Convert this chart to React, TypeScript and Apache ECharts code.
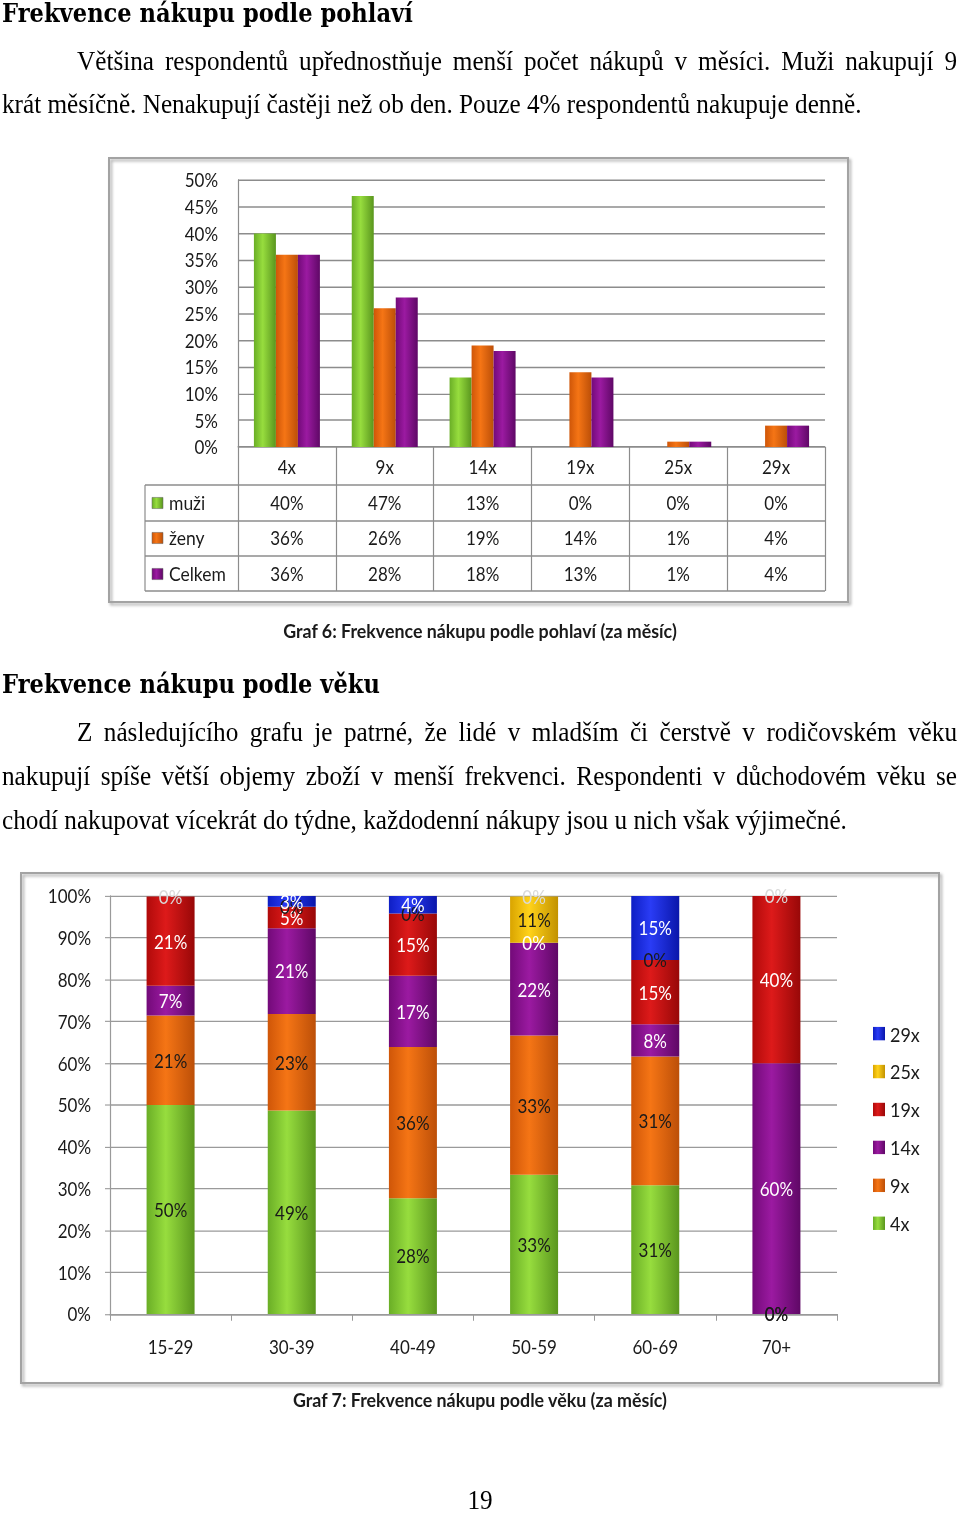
import React, { useEffect, useRef } from 'react';
import * as echarts from 'echarts';

// ---------- page geometry (reference is vertically stretched) ----------
const PAGE_W = 960;
const PAGE_H = 1515;
const SY = 1515 / 1358;
const H = 1358;
const yy = (v: number) => v / SY;

// ---------- Graf 6 data ----------
const genderCats = ['4x', '9x', '14x', '19x', '25x', '29x'];
const genderNames = ['muži', 'ženy', 'Celkem'];
const muzi = [40, 47, 13, 0, 0, 0];
const zeny = [36, 26, 19, 14, 1, 4];
const celkem = [36, 28, 18, 13, 1, 4];

// ---------- Graf 7 data ----------
const ageCats = ['15-29', '30-39', '40-49', '50-59', '60-69', '70+'];
const ageKeys = ['4x', '9x', '14x', '19x', '25x', '29x'];
const freq4x = [50, 48.7, 27.7, 33.3, 30.8, 0];
const freq9x = [21.4, 23.1, 36.2, 33.3, 30.8, 0];
const freq14x = [7.1, 20.5, 17.0, 22.2, 7.7, 60];
const freq19x = [21.4, 5.1, 14.9, 0, 15.4, 40];
const freq25x = [0, 0, 0, 11.1, 0, 0];
const freq29x = [0, 2.6, 4.3, 0, 15.4, 0];
const legendOrder = ['29x', '25x', '19x', '14x', '9x', '4x'];

// ---------- texts ----------
const heading1 = 'Frekvence nákupu podle pohlaví';
const p1l1 = 'Většina respondentů upřednostňuje menší počet nákupů v měsíci. Muži nakupují 9';
const p1l2 = 'krát měsíčně. Nenakupují častěji než ob den. Pouze 4% respondentů nakupuje denně.';
const caption6 = 'Graf 6: Frekvence nákupu podle pohlaví (za měsíc)';
const heading2 = 'Frekvence nákupu podle věku';
const p2l1 = 'Z následujícího grafu je patrné, že lidé v mladším či čerstvě v rodičovském věku';
const p2l2 = 'nakupují spíše větší objemy zboží v menší frekvenci. Respondenti v důchodovém věku se';
const p2l3 = 'chodí nakupovat vícekrát do týdne, každodenní nákupy jsou u nich však výjimečné.';
const caption7 = 'Graf 7: Frekvence nákupu podle věku (za měsíc)';
const pageNo = '19';

// ---------- styles ----------
const hGrad = (a: string, b: string, c: string) =>
  new echarts.graphic.LinearGradient(0, 0, 1, 0, [
    { offset: 0, color: a },
    { offset: 0.4, color: b },
    { offset: 1, color: c },
  ]);
const GREEN = hGrad('#6AAE26', '#97DD3E', '#5A961E');
const ORANGE = hGrad('#CF5608', '#F57515', '#BC4F08');
const PURPLE = hGrad('#730A79', '#9B1AA1', '#5F0866');
const RED = hGrad('#B00A0A', '#DD1A1A', '#980808');
const YELLOW = hGrad('#D9A400', '#FFD21A', '#C29200');
const BLUE = hGrad('#0E1EC4', '#2A3CF5', '#0A16AA');
const genderFills = [GREEN, ORANGE, PURPLE];
const ageFills = [GREEN, ORANGE, PURPLE, RED, YELLOW, BLUE];
const ageLabelColors = ['#1a1a1a', '#1a1a1a', '#ffffff', '#ffffff', '#1a1a1a', '#ffffff'];
const GRID_C = '#8c8c8c';
const SANS = 'Lato';
const SERIF = 'Liberation Serif';
const HEAD = 'DejaVu Serif';

let ctx: CanvasRenderingContext2D | null = null;
function measure(text: string, font: string) {
  if (!ctx) ctx = document.createElement('canvas').getContext('2d');
  ctx!.font = font;
  return ctx!.measureText(text).width;
}
function fitSize(text: string, family: string, weight: string, target: number) {
  return (100 * target) / measure(text, `${weight} 100px "${family}"`);
}

function txt(text: string, x: number, yRef: number, size: number, family: string, weight = 'normal', align = 'left', fill = '#000') {
  return {
    type: 'text',
    x,
    y: yy(yRef),
    silent: true,
    style: { text, fontSize: size, fontFamily: family, fontWeight: weight, fill, align, verticalAlign: 'middle' },
  };
}

function justified(line: string, x0: number, x1: number, yRef: number, size: number, family: string) {
  const words = line.split(' ');
  const font = `normal ${size}px "${family}"`;
  const widths = words.map((w) => measure(w, font));
  const total = widths.reduce((a, b) => a + b, 0);
  const gap = (x1 - x0 - total) / (words.length - 1);
  const out: any[] = [];
  let x = x0;
  words.forEach((w, i) => {
    out.push(txt(w, x, yRef, size, family));
    x += widths[i] + gap;
  });
  return out;
}

function buildAgeSeries() {
  const all = [freq4x, freq9x, freq14x, freq19x, freq25x, freq29x];
  return ageKeys.map((k, si) => {
    const vals = all[si];
    return {
      name: k,
      type: 'bar',
      stack: 'age',
      xAxisIndex: 1,
      yAxisIndex: 1,
      barWidth: 48,
      itemStyle: { color: ageFills[si] },
      label: {
        show: true,
        position: 'inside',
        color: ageLabelColors[si],
        fontSize: 17,
        fontFamily: SANS,
        formatter: (p: any) => Math.round(p.value) + '%',
      },
      data: vals.map((v, ci) => {
        let before = 0;
        for (let j = 0; j < si; j++) before += all[j][ci];
        if (v === 0 && before >= 99.5) {
          return si === ageKeys.length - 1
            ? { value: v, label: { color: '#d9d9d9' } }
            : { value: v, label: { show: false } };
        }
        return v;
      }),
    };
  });
}

export default function App() {
  const ref = useRef<HTMLDivElement>(null);
  useEffect(() => {
    document.body.style.margin = '0';
    const chart = echarts.init(ref.current!, null, { renderer: 'svg' });
    const axisLbl = { fontSize: 17, fontFamily: SANS, color: '#1a1a1a' };
    chart.setOption({
      animation: false,
      backgroundColor: '#ffffff',
      grid: [
        { left: 238, right: PAGE_W - 825, top: yy(180), bottom: H - yy(447), containLabel: false },
        { left: 110, right: PAGE_W - 837, top: yy(896), bottom: H - yy(1314), containLabel: false },
      ],
      legend: {
        data: legendOrder,
        orient: 'vertical',
        left: 868,
        top: yy(1018),
        itemWidth: 12,
        itemHeight: 12,
        itemGap: 16,
        icon: 'rect',
        textStyle: { fontSize: 18, fontFamily: SANS, color: '#1a1a1a', padding: [0, 0, 0, 0] },
      },
      xAxis: [
        {
          type: 'category',
          gridIndex: 0,
          data: genderCats,
          axisLine: { show: true, lineStyle: { color: GRID_C, width: 1.2 } },
          axisTick: { show: true, length: yy(591) - yy(447), lineStyle: { color: GRID_C, width: 1.2 } },
          axisLabel: { ...axisLbl, margin: 9 },
        },
        {
          type: 'category',
          gridIndex: 1,
          data: ageCats,
          axisLine: { show: true, lineStyle: { color: '#9a9a9a', width: 1.2 } },
          axisTick: { show: true, length: 6, lineStyle: { color: '#9a9a9a' } },
          axisLabel: { ...axisLbl, margin: 21 },
        },
      ],
      yAxis: [
        {
          type: 'value',
          gridIndex: 0,
          min: 0,
          max: 50,
          interval: 5,
          axisLine: { show: true, lineStyle: { color: GRID_C, width: 1.2 } },
          axisTick: { show: false },
          splitLine: { show: true, lineStyle: { color: GRID_C, width: 1.3 } },
          axisLabel: { ...axisLbl, margin: 20, formatter: '{value}%' },
        },
        {
          type: 'value',
          gridIndex: 1,
          min: 0,
          max: 100,
          interval: 10,
          axisLine: { show: true, lineStyle: { color: '#9a9a9a', width: 1.2 } },
          axisTick: { show: true, length: 5, lineStyle: { color: '#9a9a9a' } },
          splitLine: { show: true, lineStyle: { color: '#9a9a9a', width: 1.2 } },
          axisLabel: { ...axisLbl, margin: 19, formatter: '{value}%' },
        },
      ],
      series: [
        ...[muzi, zeny, celkem].map((d, i) => ({
          name: genderNames[i],
          type: 'bar',
          xAxisIndex: 0,
          yAxisIndex: 0,
          barWidth: 22,
          barGap: '0%',
          itemStyle: { color: genderFills[i] },
          data: d,
        })),
        ...buildAgeSeries(),
      ],
    });

    // ----- graphic: page text, frames, data table -----
    const bodySize = fitSize(p1l2, SERIF, 'normal', 860);
    const h1Size = fitSize(heading1, HEAD, 'bold', 411);
    const h2Size = fitSize(heading2, HEAD, 'bold', 378);
    const cap6Size = fitSize(caption6, SANS, 'bold', 394);
    const cap7Size = fitSize(caption7, SANS, 'bold', 375);

    const colX = genderCats.map((c) => chart.convertToPixel({ xAxisIndex: 0 }, c) as number);
    const colW = colX[1] - colX[0];
    const tableLeft = 145;
    const tableRight = colX[colX.length - 1] + colW / 2;
    const rowLines = [485, 521, 556, 591];
    const rowCenters = [503, 538, 574];
    const rows = [muzi, zeny, celkem];

    const g: any[] = [];
    const frameStyle = {
      fill: 'rgba(255,255,255,0)',
      stroke: '#a3a3a3',
      lineWidth: 2,
      shadowBlur: 3,
      shadowOffsetX: 2,
      shadowOffsetY: 2,
      shadowColor: 'rgba(0,0,0,0.35)',
    };
    g.push({ type: 'rect', silent: true, shape: { x: 109, y: yy(158), width: 739, height: yy(602) - yy(158) }, style: frameStyle });
    g.push({ type: 'rect', silent: true, shape: { x: 21, y: yy(873), width: 918, height: yy(1383) - yy(873) }, style: frameStyle });

    rowLines.forEach((ly) =>
      g.push({ type: 'line', silent: true, shape: { x1: tableLeft, y1: yy(ly), x2: tableRight, y2: yy(ly) }, style: { stroke: GRID_C, lineWidth: 1.2 } })
    );
    g.push({ type: 'line', silent: true, shape: { x1: tableLeft, y1: yy(485), x2: tableLeft, y2: yy(591) }, style: { stroke: GRID_C, lineWidth: 1.2 } });

    rows.forEach((r, ri) => {
      g.push({ type: 'rect', silent: true, shape: { x: 152, y: yy(rowCenters[ri]) - 5, width: 11, height: 10 }, style: { fill: genderFills[ri], stroke: '#666', lineWidth: 0.5 } });
      g.push(txt(genderNames[ri], 169, rowCenters[ri], 17.5, SANS, 'normal', 'left', '#1a1a1a'));
      r.forEach((v, ci) => g.push(txt(v + '%', colX[ci], rowCenters[ri], 17, SANS, 'normal', 'center', '#1a1a1a')));
    });

    g.push(txt(heading1, 2, 14, h1Size, HEAD, 'bold'));
    g.push(...justified(p1l1, 77, 957, 61, bodySize, SERIF));
    g.push(txt(p1l2, 2, 104, bodySize, SERIF));
    g.push(txt(caption6, 480, 630, cap6Size, SANS, 'bold', 'center', '#1a1a1a'));
    g.push(txt(heading2, 2, 685, h2Size, HEAD, 'bold'));
    g.push(...justified(p2l1, 77, 957, 732, bodySize, SERIF));
    g.push(...justified(p2l2, 2, 957, 776, bodySize, SERIF));
    g.push(txt(p2l3, 2, 820, bodySize, SERIF));
    g.push(txt(caption7, 480, 1399, cap7Size, SANS, 'bold', 'center', '#1a1a1a'));
    g.push(txt(pageNo, 480, 1500, bodySize, SERIF, 'normal', 'center'));

    chart.setOption({ graphic: g });
    return () => chart.dispose();
  }, []);

  return (
    <div style={{ position: 'absolute', left: 0, top: 0, width: PAGE_W, height: PAGE_H, overflow: 'hidden', background: '#fff' }}>
      <div ref={ref} style={{ width: PAGE_W, height: H, transform: `scaleY(${SY})`, transformOrigin: '0 0' }} />
    </div>
  );
}
